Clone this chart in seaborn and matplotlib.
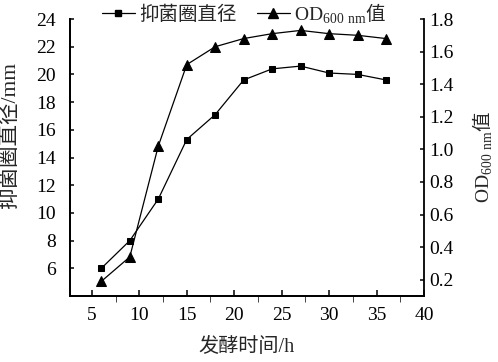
import pandas as pd
import seaborn as sns
import matplotlib.pyplot as plt
from matplotlib.lines import Line2D

# data
hours = [6, 9, 12, 15, 18, 21, 24, 27, 30, 33, 36]
zone_mm = [6.0, 8.0, 11.0, 15.3, 17.1, 19.6, 20.4, 20.6, 20.1, 20.0, 19.6]
od600 = [0.19, 0.34, 1.02, 1.52, 1.63, 1.68, 1.71, 1.73, 1.71, 1.70, 1.68]

df = pd.DataFrame({'hours': hours, 'zone': zone_mm, 'od': od600})

sns.set_style('ticks')
plt.rcParams['font.family'] = ['Liberation Serif', 'Noto Sans CJK SC']
plt.rcParams['mathtext.fontset'] = 'custom'
plt.rcParams['mathtext.rm'] = 'Liberation Serif'
plt.rcParams['axes.linewidth'] = 1.3
plt.rcParams['axes.edgecolor'] = 'black'

fig = plt.figure(figsize=(4.98, 3.62), dpi=100)
ax = fig.add_axes([0.1406, 0.1823, 0.7108, 0.7652])
ax2 = ax.twinx()

sns.lineplot(data=df, x='hours', y='zone', marker='s', markersize=5, color='black',
             linewidth=0.9, markeredgecolor='black', ax=ax)
sns.lineplot(data=df, x='hours', y='od', marker='^', markersize=6.5, color='black',
             linewidth=0.9, markeredgecolor='black', ax=ax2)

ax.set_xlim(2.7, 40)
ax.set_ylim(4, 24)
ax2.set_ylim(0.1, 1.8)
ax.set_xticks(range(5, 41, 5))
ax.set_xticks([x + 2.5 for x in range(5, 40, 5)], minor=True)
ax.set_yticks(range(6, 25, 2))
ax2.set_yticks([0.2, 0.4, 0.6, 0.8, 1.0, 1.2, 1.4, 1.6, 1.8])
ax2.set_yticklabels(['0.2', '0.4', '0.6', '0.8', '1.0', '1.2', '1.4', '1.6', '1.8'])

for a in (ax, ax2):
    a.tick_params(direction='in', labelsize=14, length=3, width=1.1, colors='black')
    a.spines['top'].set_visible(False)
ax.spines['right'].set_visible(False)
ax.tick_params(axis='x', which='both', length=4.5, pad=8)
ax.tick_params(axis='y', pad=10)
ax2.tick_params(axis='y', pad=4)

cjk = 'Noto Sans CJK SC'
ax.set_xlabel('发酵时间/h', fontsize=14.5, labelpad=10)
ax.set_ylabel('抑菌圈直径/mm', fontsize=15.5)
ax.yaxis.set_label_coords(-0.141, 0.58)
ax2.set_ylabel(r'$\mathrm{OD}_{\mathrm{600\ nm}}$值', fontsize=14, labelpad=12,
               family=cjk)

handles = [
    Line2D([], [], color='black', marker='s', markersize=5, linewidth=0.9),
    Line2D([], [], color='black', marker='^', markersize=6.5, linewidth=0.9),
]
leg = fig.legend(handles, ['抑菌圈直径', r'$\mathrm{OD}_{\mathrm{600\ nm}}$值'],
                 loc='center', bbox_to_anchor=(0.49, 0.963), ncol=2, frameon=False,
                 fontsize=14, handlelength=1.7, handletextpad=0.25,
                 columnspacing=1.0, borderpad=0)
leg.get_texts()[1].set_fontfamily(cjk)

fig.savefig('out.png', dpi=100)
